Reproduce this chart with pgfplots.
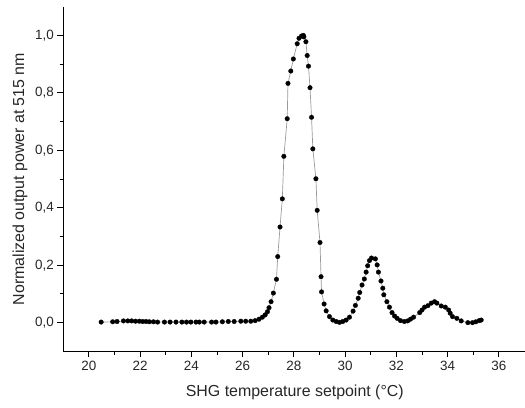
\documentclass[border=0pt]{standalone}
\usepackage{fontspec}
\setmainfont{Liberation Sans}
\usepackage{pgfplots}
\pgfplotsset{compat=1.18}
\begin{document}
\begin{tikzpicture}
\begin{axis}[
  scale only axis,
  width=461.7bp, height=345bp,
  xmin=19, xmax=37, ymin=-0.1, ymax=1.1,
  axis x line*=bottom, axis y line*=left,
  axis line style={-, line width=0.9bp, black},
  every tick/.style={line width=0.9bp, black},
  tick align=outside,
  major tick length=6bp, minor tick length=3.5bp,
  xtick={20,22,...,36}, minor x tick num=1,
  ytick={0,0.2,...,1.0}, minor y tick num=1,
  /pgf/number format/assume math mode=true,
  yticklabel style={/pgf/number format/.cd, use comma, fixed, fixed zerofill, precision=1},
  xticklabel style={/pgf/number format/.cd, fixed, precision=0},
  tick label style={font=\fontsize{13.5}{15}\selectfont, text=black!85},
  label style={font=\fontsize{16}{19}\selectfont, text=black!85},
  xlabel={SHG temperature setpoint (°C)},
  ylabel={Normalized output power at 515 nm},
  xlabel style={at={(axis description cs:0.502,-0.1197)}, anchor=center},
  ylabel style={at={(axis description cs:-0.0938,0.5)}, anchor=center},
  clip=false,
]
\addplot[color=black!40, line width=0.7bp, mark=*, mark size=2.3bp,
  mark options={fill=black, draw=black, line width=0.3bp}] coordinates {
(20.48,0.002) (20.93,0.003) (21.10,0.004) (21.35,0.006) (21.52,0.006)
(21.67,0.006) (21.82,0.005) (21.97,0.005) (22.10,0.004) (22.23,0.004)
(22.36,0.003) (22.52,0.003) (22.68,0.002) (22.95,0.002) (23.17,0.002)
(23.40,0.002) (23.63,0.002) (23.81,0.002) (23.98,0.002) (24.18,0.002)
(24.31,0.002) (24.50,0.002) (24.79,0.002) (24.96,0.002) (25.21,0.003)
(25.44,0.004) (25.67,0.004) (25.93,0.005) (26.12,0.005) (26.32,0.005)
(26.49,0.007) (26.64,0.012) (26.77,0.019) (26.88,0.027) (26.97,0.038)
(27.03,0.052) (27.11,0.073) (27.20,0.103) (27.32,0.151) (27.37,0.230)
(27.46,0.333) (27.55,0.431) (27.61,0.579) (27.74,0.710) (27.77,0.833)
(27.88,0.876) (27.98,0.918) (28.13,0.971) (28.20,0.990) (28.30,0.998)
(28.37,1.000) (28.39,0.995) (28.47,0.978) (28.52,0.930) (28.57,0.893)
(28.63,0.818) (28.69,0.715) (28.74,0.605) (28.86,0.501) (28.91,0.391)
(29.02,0.279) (29.06,0.160) (29.08,0.107) (29.18,0.065) (29.26,0.041)
(29.39,0.021) (29.52,0.009) (29.65,0.004) (29.78,0.001) (29.91,0.004)
(30.04,0.009) (30.17,0.019) (30.31,0.040) (30.40,0.060) (30.51,0.085)
(30.57,0.105) (30.66,0.131) (30.75,0.152) (30.82,0.176) (30.88,0.198)
(30.95,0.216) (31.03,0.225) (31.18,0.222) (31.25,0.201) (31.30,0.176)
(31.40,0.145) (31.47,0.120) (31.51,0.097) (31.63,0.073) (31.73,0.054)
(31.83,0.035) (31.93,0.023) (32.03,0.015) (32.16,0.007) (32.31,0.004)
(32.44,0.006) (32.55,0.012) (32.67,0.019) (32.91,0.035) (33.00,0.044)
(33.10,0.054) (33.23,0.059) (33.36,0.068) (33.49,0.073) (33.58,0.068)
(33.75,0.058) (33.91,0.054) (34.04,0.044) (34.10,0.033) (34.19,0.021)
(34.36,0.015) (34.53,0.006) (34.79,0.000) (34.97,0.000) (35.10,0.003)
(35.23,0.007) (35.31,0.009)
};
\coordinate (SW) at (rel axis cs:0,0);
\coordinate (NE) at (rel axis cs:1,1);
\end{axis}
\pgfresetboundingbox
\useasboundingbox ([xshift=-63.3bp,yshift=-56.3bp]SW) rectangle ([xshift=0.5bp,yshift=6.7bp]NE);
\end{tikzpicture}
\end{document}
